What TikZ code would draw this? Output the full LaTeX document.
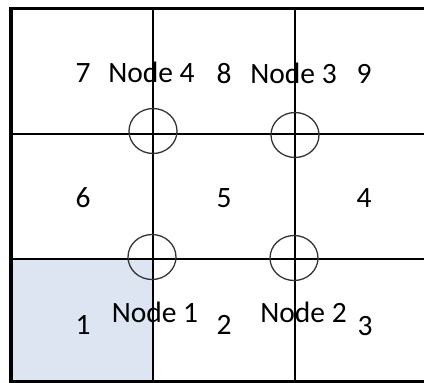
\documentclass[tikz,border=0pt]{standalone}
\usepackage{fontspec}
\setmainfont{Carlito}
\definecolor{cellfill}{HTML}{DCE5F1}
\definecolor{ringcol}{HTML}{333333}
\begin{document}
\begin{tikzpicture}[x=1pt,y=-1pt,
  gridline/.style={line width=2pt,black},
  border/.style={line width=3.4pt,black},
  ring/.style={line width=1.3pt,ringcol},
  lab/.style={anchor=base,inner sep=0pt,font=\fontsize{29.5}{32}\selectfont}]
\useasboundingbox (0,0) rectangle (424,383);
\fill[white] (416,180) circle (4);
\fill[white] (405,220) circle (4);
\fill[cellfill] (12,259) rectangle (153,381);
\draw[gridline] (153,8) coordinate (v1t) -- (153,382) coordinate (v1b);
\draw[gridline] (295,8) coordinate (v2t) -- (295,382) coordinate (v2b);
\draw[gridline] (11,134) coordinate (h1l) -- (424,134) coordinate (h1r);
\draw[gridline] (11,259) coordinate (h2l) -- (424,259) coordinate (h2r);
\draw[border] (11,8.6) -- (424,8.6);
\draw[border] (11,381.8) -- (424,381.8);
\draw[border] (11,6.9) -- (11,383);
\draw[ring] (153,131) ellipse [x radius=24,y radius=22.5];
\draw[ring] (295,135) ellipse [x radius=24,y radius=22.5];
\draw[ring] (152,257) ellipse [x radius=24,y radius=22.5];
\draw[ring] (294,258) ellipse [x radius=24,y radius=22.5];
\node[lab] (c7) at (83,82) {7};
\node[lab] (n4) at (151.5,82) {Node 4};
\node[lab] (c8) at (224,83) {8};
\node[lab] (n3) at (293.5,83) {Node 3};
\node[lab] (c9) at (364,83) {9};
\node[lab] (c6) at (83,207) {6};
\node[lab] (c5) at (224,207) {5};
\node[lab] (c4) at (364,207) {4};
\node[lab] (c1) at (83,334) {1};
\node[lab] (n1) at (155,322) {Node 1};
\node[lab] (c2) at (224,334) {2};
\node[lab] (n2) at (303.5,322) {Node 2};
\node[lab] (c3) at (365,335) {3};
\end{tikzpicture}
\end{document}
